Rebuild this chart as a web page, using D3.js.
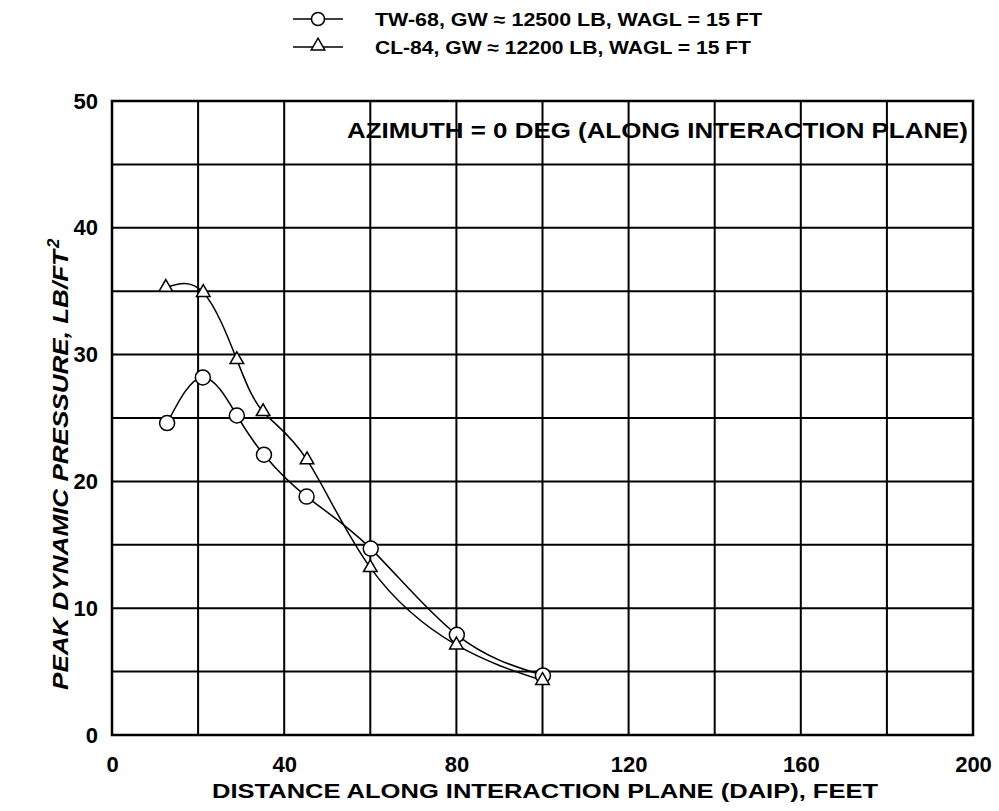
<!DOCTYPE html>
<html><head><meta charset="utf-8">
<script src="https://cdn.jsdelivr.net/npm/d3@7/dist/d3.min.js"></script>
<style>body{margin:0;background:#fff}svg{display:block}text{font-family:"Liberation Sans",Arial,sans-serif;font-weight:bold;fill:#000}</style>
</head><body><svg id="c" width="999" height="811"></svg>
<script>
const twX = [12.8, 21.1, 29.0, 35.3, 45.2, 60.1, 80.1, 100.1];
const twY = [24.6, 28.2, 25.2, 22.1, 18.8, 14.7, 7.9, 4.7];
const clX = [12.5, 21.2, 29.0, 35.1, 45.3, 60.0, 80.0, 100.0];
const clY = [35.3, 34.9, 29.6, 25.5, 21.7, 13.2, 7.1, 4.3];
const xTicks = [0, 40, 80, 120, 160, 200];
const yTicks = [0, 10, 20, 30, 40, 50];
const xGrid = [20, 40, 60, 80, 100, 120, 140, 160, 180];
const yGrid = [5, 10, 15, 20, 25, 30, 35, 40, 45];
const legendLabels = ["TW-68, GW \u2248 12500 LB, WAGL = 15 FT", "CL-84, GW \u2248 12200 LB, WAGL = 15 FT"];
const annotation = "AZIMUTH = 0 DEG (ALONG INTERACTION PLANE)";
const xTitle = "DISTANCE ALONG INTERACTION PLANE (DAIP), FEET";
const yTitle = "PEAK DYNAMIC PRESSURE, LB/FT";

const svg = d3.select("#c");
const L = 112, R = 973, T = 101, B = 735;
const x = d3.scaleLinear().domain([0, 200]).range([L, R]);
const y = d3.scaleLinear().domain([0, 50]).range([B, T]);

// grid
svg.append("g").selectAll("line").data(xGrid).join("line")
  .attr("x1", d => x(d)).attr("x2", d => x(d)).attr("y1", T).attr("y2", B)
  .attr("stroke", "#000").attr("stroke-width", 2);
svg.append("g").selectAll("line").data(yGrid).join("line")
  .attr("y1", d => y(d)).attr("y2", d => y(d)).attr("x1", L).attr("x2", R)
  .attr("stroke", "#000").attr("stroke-width", 2);
svg.append("rect").attr("x", L).attr("y", T).attr("width", R - L).attr("height", B - T)
  .attr("fill", "none").attr("stroke", "#000").attr("stroke-width", 2.5);

// axes
const xAxis = d3.axisBottom(x).tickValues(xTicks).tickSize(0).tickPadding(21);
const gx = svg.append("g").attr("transform", `translate(0,${B})`).call(xAxis);
gx.select(".domain").remove();
gx.selectAll("text").style("font-size", "22px").style("font-family", "Liberation Sans, Arial, sans-serif").style("font-weight", "bold");
const yAxis = d3.axisLeft(y).tickValues(yTicks).tickSize(0).tickPadding(14);
const gy = svg.append("g").attr("transform", `translate(${L},0)`).call(yAxis);
gy.select(".domain").remove();
gy.selectAll("text").style("font-size", "22px").style("font-family", "Liberation Sans, Arial, sans-serif").style("font-weight", "bold");

// titles
svg.append("text").attr("x", 212).attr("y", 798)
  .attr("textLength", 666).attr("lengthAdjust", "spacingAndGlyphs")
  .style("font-size", "20px").text(xTitle);
const yt = svg.append("g").attr("transform", "translate(68,690) rotate(-90)");
yt.append("text").attr("x", 0).attr("y", 0)
  .attr("textLength", 440).attr("lengthAdjust", "spacingAndGlyphs")
  .style("font-size", "22px").style("font-style", "italic").text(yTitle);
yt.append("text").attr("x", 442).attr("y", -9)
  .style("font-size", "17px").style("font-style", "italic").text("2");

svg.append("text").attr("x", 347).attr("y", 138)
  .attr("textLength", 621).attr("lengthAdjust", "spacingAndGlyphs")
  .style("font-size", "22px").text(annotation);

// curves
const line = d3.line().x(d => x(d[0])).y(d => y(d[1])).curve(d3.curveNatural);
const tw = twX.map((v, i) => [v, twY[i]]);
const cl = clX.map((v, i) => [v, clY[i]]);
svg.append("path").attr("d", line(tw)).attr("fill", "none").attr("stroke", "#000").attr("stroke-width", 1.5);
svg.append("path").attr("d", line(cl)).attr("fill", "none").attr("stroke", "#000").attr("stroke-width", 1.5);

const tri = d3.symbol().type(d3.symbolTriangle).size(80);
svg.append("g").selectAll("circle").data(tw).join("circle")
  .attr("cx", d => x(d[0])).attr("cy", d => y(d[1])).attr("r", 7.5)
  .attr("fill", "#fff").attr("stroke", "#000").attr("stroke-width", 1.5);
svg.append("g").selectAll("path").data(cl).join("path")
  .attr("d", tri).attr("transform", d => `translate(${x(d[0])},${y(d[1])})`)
  .attr("fill", "#fff").attr("stroke", "#000").attr("stroke-width", 1.5);

// legend
const lg = svg.append("g");
const legLens = [387, 376];
[0, 1].forEach(i => {
  const yy = 19 + i * 28;
  lg.append("line").attr("x1", 293).attr("x2", 343).attr("y1", yy).attr("y2", yy)
    .attr("stroke", "#000").attr("stroke-width", 1.5);
  if (i === 0) lg.append("circle").attr("cx", 318).attr("cy", yy).attr("r", 6.5)
    .attr("fill", "#fff").attr("stroke", "#000").attr("stroke-width", 1.5);
  else lg.append("path").attr("d", tri).attr("transform", `translate(318,${yy - 1})`)
    .attr("fill", "#fff").attr("stroke", "#000").attr("stroke-width", 1.5);
  lg.append("text").attr("x", 375).attr("y", yy + 7)
    .attr("textLength", legLens[i]).attr("lengthAdjust", "spacingAndGlyphs")
    .style("font-size", "18px").text(legendLabels[i]);
});
</script></body></html>
